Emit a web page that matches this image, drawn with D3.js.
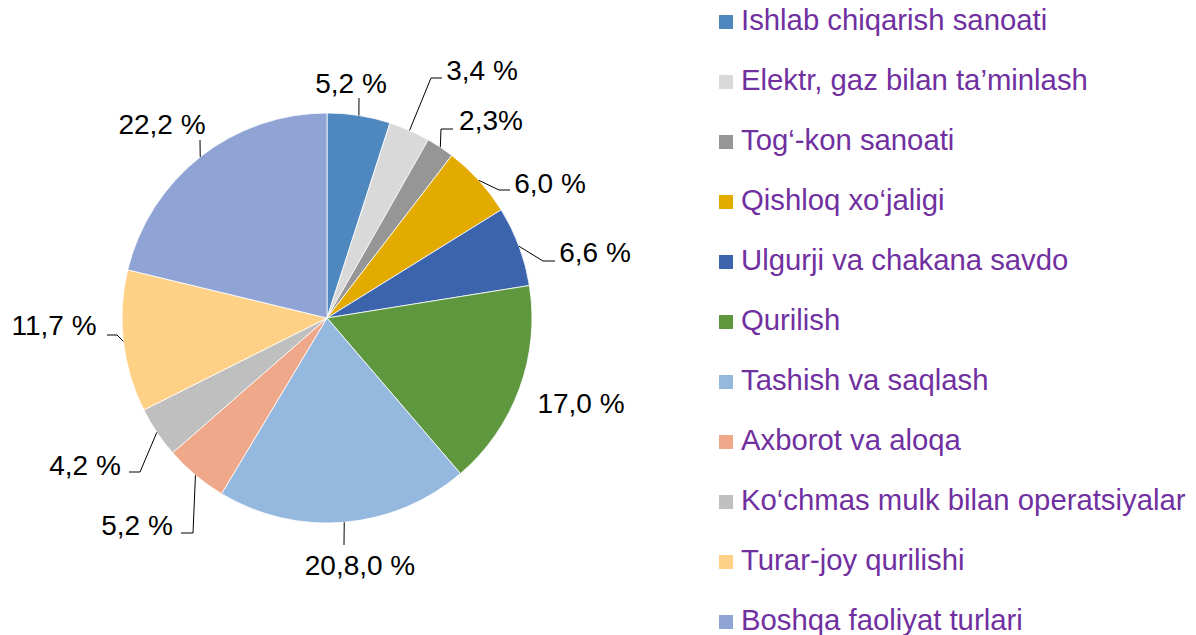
<!DOCTYPE html>
<html lang="uz">
<head>
<meta charset="UTF-8">
<title>Pie</title>
<script src="https://cdn.jsdelivr.net/npm/d3@7"></script>
<style>
    body { margin: 0; background: #fff; }
    svg { display: block; font-family: "Liberation Sans", Arial, sans-serif; }
    .leader { fill: none; stroke: #000; stroke-width: 1px; }
</style>
</head>
<body>
<script>
    // tarmoqlar
    var categories = ["Ishlab chiqarish sanoati", "Elektr, gaz bilan ta\u2019minlash", "Tog\u2018-kon sanoati",
        "Qishloq xo\u2018jaligi", "Ulgurji va chakana savdo", "Qurilish", "Tashish va saqlash",
        "Axborot va aloqa", "Ko\u2018chmas mulk bilan operatsiyalar", "Turar-joy qurilishi", "Boshqa faoliyat turlari"];
    var values = [5.2, 3.4, 2.3, 6.0, 6.6, 17.0, 20.8, 5.2, 4.2, 11.7, 22.2];
    var valueLabels = ["5,2 %", "3,4 %", "2,3%", "6,0 %", "6,6 %", "17,0 %", "20,8,0 %", "5,2 %", "4,2 %", "11,7 %", "22,2 %"];
    var colors = ["#4F88BE", "#D9D9D9", "#969696", "#E3AA00", "#3B64AD", "#5F973F", "#95B8DF",
        "#F0A88A", "#BFBFBF", "#FFD187", "#8FA3D4"];

    // label placement (relative to pie centre): text anchor + leader points after the edge point
    var labelLayout = [
        {tx: 24, ty: -225, pts: [[32, -220]]},
        {tx: 155, ty: -238, pts: [[104, -240], [115, -240]]},
        {tx: 164, ty: -188, pts: [[114, -189], [126, -189]]},
        {tx: 223, ty: -125, pts: [[172, -128], [183, -128]]},
        {tx: 268, ty: -56, pts: [[216, -57], [228, -57]]},
        {tx: 254, ty: 95, pts: null},
        {tx: 33, ty: 257, pts: [[17, 227]]},
        {tx: -190, ty: 217, pts: [[-134, 215], [-146, 215]]},
        {tx: -242, ty: 157, pts: [[-187, 154], [-198, 154]]},
        {tx: -273, ty: 17, pts: [[-210, 17], [-220, 17]]},
        {tx: -165, ty: -184, pts: [[-127, -178]]}
    ];

    var W = 1196, H = 635;
    var cx = 327, cy = 318, R = 205;

    var svg = d3.select("body").append("svg")
        .attr("width", W)
        .attr("height", H);

    var pie = d3.pie().sort(null).value(function(d){ return d; });
    var arc = d3.arc().innerRadius(0).outerRadius(R);
    var edge = d3.arc().innerRadius(R).outerRadius(R);
    var slices = pie(values);

    var g = svg.append("g").attr("transform", "translate(" + cx + "," + cy + ")");

    g.selectAll("path.slice")
        .data(slices)
        .enter()
        .append("path")
        .attr("class", "slice")
        .attr("d", arc)
        .attr("fill", function(d, i){ return colors[i]; })
        .attr("stroke", "#fff")
        .attr("stroke-width", 0.8);

    // leader lines
    var line = d3.line();
    g.selectAll("path.leader")
        .data(slices.filter(function(d, i){ return labelLayout[i].pts; }))
        .enter()
        .append("path")
        .attr("class", "leader")
        .attr("d", function(d){
            var p = edge.centroid(d);
            return line([p].concat(labelLayout[d.index].pts));
        });

    g.selectAll("text.val")
        .data(slices)
        .enter()
        .append("text")
        .attr("class", "val")
        .attr("x", function(d, i){ return labelLayout[i].tx; })
        .attr("y", function(d, i){ return labelLayout[i].ty; })
        .attr("text-anchor", "middle")
        .attr("font-size", "28px")
        .attr("fill", "#000")
        .text(function(d, i){ return valueLabels[i]; });

    // legend
    var legend = svg.append("g").attr("transform", "translate(719,30)");
    var item = legend.selectAll("g")
        .data(categories)
        .enter()
        .append("g")
        .attr("transform", function(d, i){ return "translate(0," + (i * 60) + ")"; });

    item.append("rect")
        .attr("x", 0)
        .attr("y", -15)
        .attr("width", 14)
        .attr("height", 14)
        .attr("fill", function(d, i){ return colors[i]; });

    item.append("text")
        .attr("x", 22)
        .attr("y", 0)
        .attr("font-size", "29.3px")
        .attr("fill", "#7030A0")
        .text(function(d){ return d; });
</script>
</body>
</html>
